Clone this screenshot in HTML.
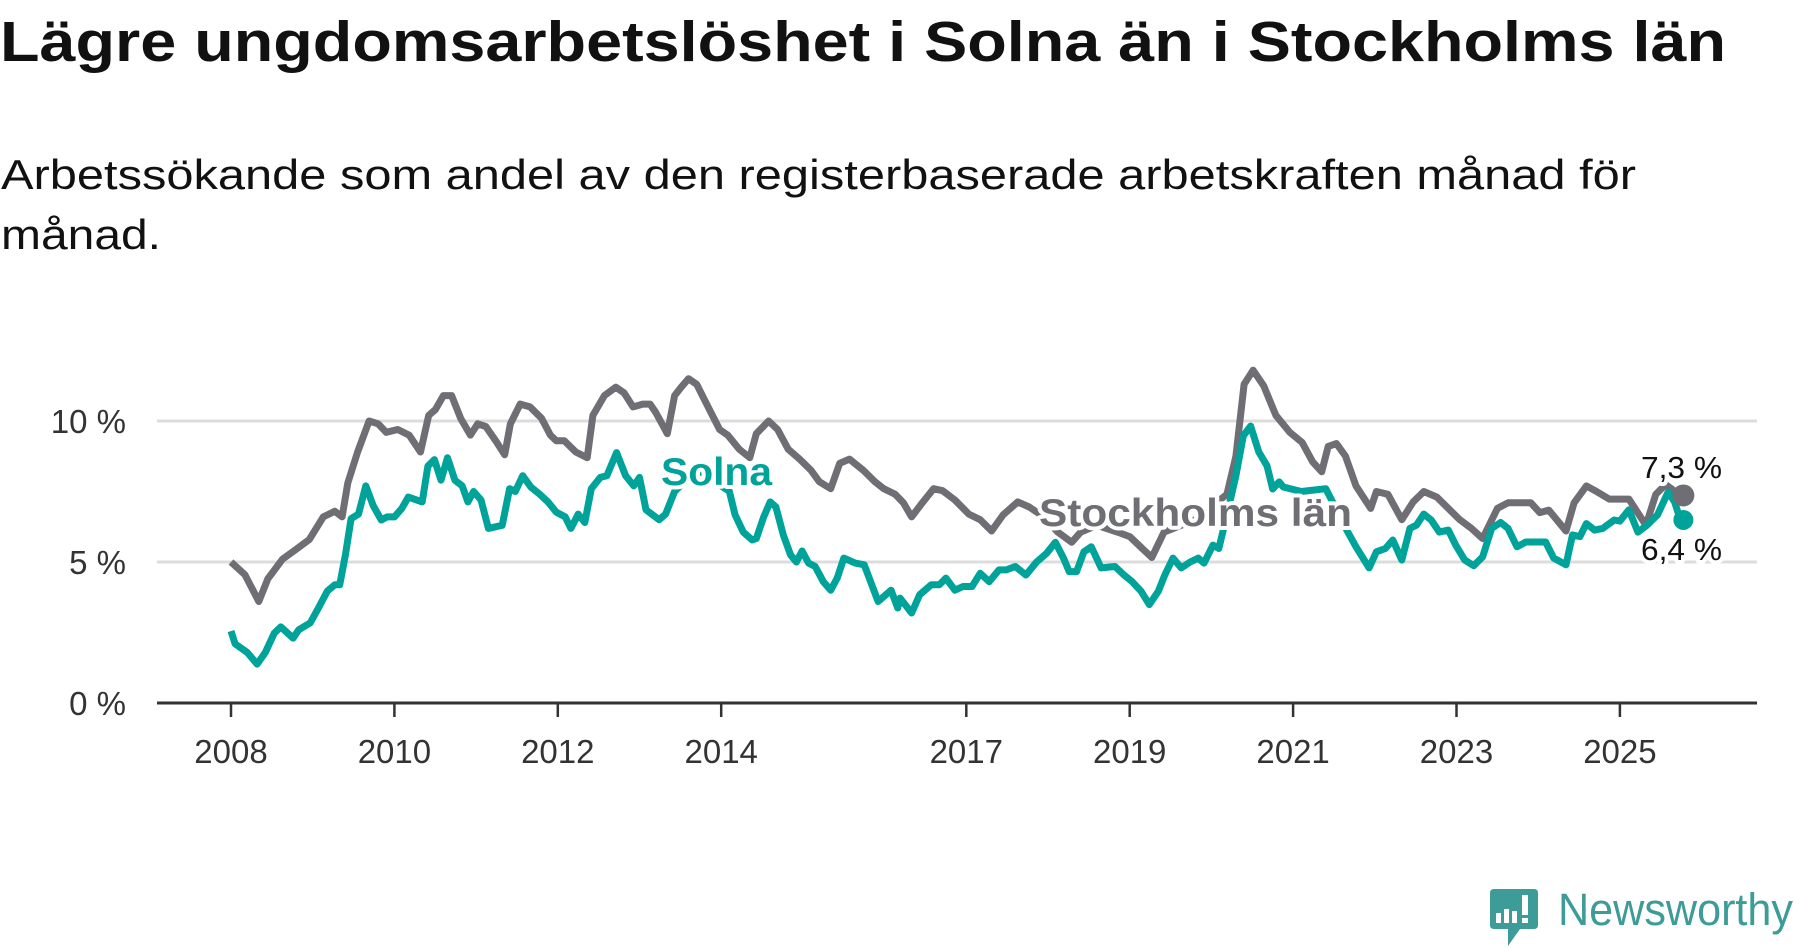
<!DOCTYPE html>
<html><head><meta charset="utf-8"><style>
html,body{margin:0;padding:0;background:#fff;}
svg{display:block;font-family:"Liberation Sans",sans-serif;}
</style></head><body>
<svg id="chart" width="1800" height="948" viewBox="0 0 1800 948">
<text x="0" y="61" font-size="57" font-weight="bold" fill="#111" textLength="1726" lengthAdjust="spacingAndGlyphs">Lägre ungdomsarbetslöshet i Solna än i Stockholms län</text>
<text x="1" y="189" font-size="42" fill="#111" textLength="1635" lengthAdjust="spacingAndGlyphs">Arbetssökande som andel av den registerbaserade arbetskraften månad för</text>
<text x="1" y="249" font-size="42" fill="#111" textLength="160" lengthAdjust="spacingAndGlyphs">månad.</text>
<g id="grid"></g>
<g id="yaxis"></g>
<g id="xaxis"></g>
<g id="lines"></g>
<g id="labels"></g>
<g>
  <path d="M1494 889 H1534 Q1538 889 1538 893 V925 Q1538 929 1534 929 H1520 L1508 946 L1508 929 H1494 Q1490 929 1490 925 V893 Q1490 889 1494 889 Z" fill="#3d9c97"/>
  <rect x="1496" y="913" width="5" height="10" fill="#fff"/>
  <rect x="1504" y="909" width="5" height="14" fill="#fff"/>
  <rect x="1512" y="911" width="5" height="12" fill="#fff"/>
  <rect x="1522" y="895" width="6" height="20" fill="#fff"/>
  <rect x="1522" y="918" width="6" height="5" fill="#fff"/>
  <text x="1558" y="925" font-size="45" fill="#3d9c97" textLength="235" lengthAdjust="spacingAndGlyphs">Newsworthy</text>
</g>
</svg>
<script>
const yTicks = [0, 5, 10];
const yTickLabels = ["0 %", "5 %", "10 %"];
const xTicks = [2008, 2010, 2012, 2014, 2017, 2019, 2021, 2023, 2025];
const stockholmYears = [2008.0,2008.17,2008.34,2008.45,2008.63,2008.82,2008.96,2009.13,2009.27,2009.36,2009.43,2009.55,2009.69,2009.80,2009.90,2010.04,2010.18,2010.32,2010.42,2010.50,2010.60,2010.70,2010.81,2010.93,2011.02,2011.12,2011.24,2011.35,2011.42,2011.54,2011.66,2011.80,2011.91,2011.98,2012.08,2012.22,2012.36,2012.43,2012.57,2012.71,2012.81,2012.92,2013.04,2013.13,2013.20,2013.34,2013.43,2013.51,2013.60,2013.70,2013.84,2013.98,2014.08,2014.22,2014.35,2014.43,2014.58,2014.69,2014.82,2014.96,2015.10,2015.20,2015.34,2015.45,2015.57,2015.74,2015.88,2015.99,2016.13,2016.23,2016.33,2016.47,2016.60,2016.71,2016.86,2017.03,2017.17,2017.31,2017.45,2017.63,2017.77,2017.95,2018.12,2018.29,2018.40,2018.60,2018.86,2019.0,2019.27,2019.42,2019.80,2020.19,2020.30,2020.40,2020.51,2020.64,2020.79,2020.96,2021.11,2021.24,2021.35,2021.43,2021.53,2021.64,2021.77,2021.95,2022.02,2022.16,2022.33,2022.47,2022.60,2022.76,2022.90,2023.04,2023.18,2023.32,2023.50,2023.63,2023.91,2024.02,2024.13,2024.34,2024.44,2024.59,2024.69,2024.87,2025.11,2025.32,2025.44,2025.56,2025.74];
const stockholmValues = [5.0,4.55,3.6,4.4,5.1,5.5,5.8,6.6,6.8,6.6,7.8,8.9,10.0,9.9,9.6,9.7,9.5,8.9,10.2,10.4,10.9,10.9,10.1,9.5,9.9,9.8,9.3,8.8,9.9,10.6,10.5,10.1,9.5,9.3,9.3,8.9,8.7,10.2,10.9,11.2,11.0,10.5,10.6,10.6,10.3,9.55,10.9,11.2,11.5,11.3,10.5,9.7,9.5,9.0,8.7,9.55,10.0,9.7,9.0,8.65,8.25,7.85,7.6,8.5,8.65,8.25,7.85,7.6,7.4,7.1,6.6,7.13,7.6,7.53,7.2,6.7,6.5,6.1,6.67,7.13,6.95,6.6,6.06,5.7,6.06,6.3,6.05,5.9,5.16,6.06,6.5,7.4,8.75,11.3,11.8,11.25,10.2,9.6,9.24,8.55,8.2,9.1,9.2,8.76,7.7,6.9,7.5,7.4,6.5,7.13,7.5,7.3,6.9,6.5,6.2,5.83,6.9,7.1,7.1,6.75,6.84,6.1,7.1,7.7,7.54,7.23,7.23,6.3,7.4,7.75,7.36];
const solnaYears = [2008.0,2008.05,2008.2,2008.32,2008.42,2008.53,2008.61,2008.76,2008.83,2008.97,2009.07,2009.18,2009.27,2009.33,2009.40,2009.47,2009.56,2009.65,2009.74,2009.84,2009.91,2010.0,2010.09,2010.17,2010.34,2010.41,2010.49,2010.57,2010.65,2010.74,2010.83,2010.90,2010.97,2011.06,2011.15,2011.32,2011.41,2011.48,2011.57,2011.67,2011.78,2011.88,2011.98,2012.09,2012.16,2012.25,2012.33,2012.41,2012.52,2012.60,2012.72,2012.83,2012.93,2013.0,2013.08,2013.24,2013.32,2013.43,2013.70,2014.10,2014.17,2014.27,2014.38,2014.43,2014.52,2014.60,2014.67,2014.76,2014.85,2014.92,2014.99,2015.07,2015.15,2015.25,2015.34,2015.42,2015.50,2015.64,2015.75,2015.92,2016.08,2016.16,2016.19,2016.33,2016.43,2016.57,2016.67,2016.75,2016.86,2016.96,2017.07,2017.17,2017.28,2017.40,2017.49,2017.60,2017.73,2017.86,2017.98,2018.09,2018.19,2018.26,2018.35,2018.44,2018.53,2018.65,2018.82,2018.93,2019.03,2019.14,2019.24,2019.35,2019.43,2019.53,2019.63,2019.74,2019.84,2019.91,2020.02,2020.09,2020.19,2020.30,2020.39,2020.48,2020.58,2020.68,2020.75,2020.83,2020.88,2021.1,2021.4,2021.67,2021.77,2021.93,2022.02,2022.13,2022.22,2022.33,2022.43,2022.51,2022.60,2022.69,2022.79,2022.90,2022.99,2023.10,2023.21,2023.32,2023.43,2023.54,2023.63,2023.74,2023.85,2024.09,2024.19,2024.34,2024.42,2024.51,2024.59,2024.69,2024.79,2024.93,2025.0,2025.11,2025.22,2025.33,2025.46,2025.59,2025.67,2025.74];
const solnaValues = [2.55,2.1,1.79,1.38,1.79,2.48,2.7,2.3,2.6,2.84,3.37,3.97,4.19,4.19,5.25,6.54,6.7,7.7,7.0,6.49,6.6,6.6,6.9,7.3,7.13,8.4,8.63,7.9,8.7,7.9,7.7,7.13,7.5,7.2,6.19,6.3,7.6,7.5,8.06,7.66,7.4,7.13,6.77,6.6,6.19,6.7,6.4,7.6,8.0,8.06,8.88,8.06,7.7,8.0,6.85,6.5,6.7,7.5,8.3,7.5,6.67,6.06,5.78,5.83,6.6,7.13,6.95,5.96,5.25,5.0,5.39,4.96,4.84,4.3,4.0,4.43,5.14,4.96,4.9,3.6,4.0,3.37,3.72,3.19,3.84,4.19,4.19,4.43,4.0,4.13,4.13,4.6,4.3,4.72,4.72,4.84,4.54,5.0,5.3,5.7,5.14,4.66,4.66,5.36,5.54,4.79,4.84,4.54,4.3,3.96,3.49,3.96,4.54,5.14,4.79,5.0,5.14,4.96,5.6,5.48,6.67,8.06,9.47,9.82,8.9,8.41,7.59,7.84,7.66,7.5,7.6,6.06,5.54,4.79,5.36,5.48,5.78,5.07,6.19,6.31,6.7,6.49,6.06,6.13,5.6,5.07,4.87,5.18,6.19,6.4,6.19,5.54,5.71,5.71,5.14,4.9,5.96,5.9,6.36,6.13,6.19,6.49,6.45,6.85,6.06,6.3,6.67,7.48,7.13,6.49];

const NS = "http://www.w3.org/2000/svg";
const X0 = 231, PXY = 81.7, Y0 = 703, PXV = 28.2;
function xScale(y){ return X0 + (y - 2008) * PXY; }
function yScale(v){ return Y0 - v * PXV; }
function mk(tag, attrs, parent){ const e = document.createElementNS(NS, tag); for (const k in attrs) e.setAttribute(k, attrs[k]); parent.appendChild(e); return e; }

const grid = document.getElementById('grid'), yaxis = document.getElementById('yaxis'), xaxis = document.getElementById('xaxis');
yTicks.forEach((t, i) => {
  if (t !== 0) {
    const g = mk('line', {x1:157, x2:1757, y1:yScale(t), y2:yScale(t), stroke:'#dcdcdc', 'stroke-width':3}, grid);
    
    
  }
  const l = mk('text', {x:126, y:yScale(t)+12, 'font-size':33, fill:'#333', 'text-anchor':'end'}, yaxis);
  
  
  l.textContent = yTickLabels[i];
});
const ax = mk('line', {x1:157, x2:1757, y1:Y0, y2:Y0, stroke:'#333', 'stroke-width':3}, xaxis);


xTicks.forEach(t => {
  const tk = mk('line', {x1:xScale(t), x2:xScale(t), y1:Y0, y2:Y0+14, stroke:'#333', 'stroke-width':2.5}, xaxis);
  
  
  const l = mk('text', {x:xScale(t), y:763, 'font-size':33, fill:'#333', 'text-anchor':'middle'}, xaxis);
  
  
  l.textContent = String(t);
});

const lines = document.getElementById('lines');
function path(ys, vs){ return ys.map((y,i)=>(i?'L':'M')+xScale(y).toFixed(1)+' '+yScale(vs[i]).toFixed(1)).join(' '); }
const sp = mk('path', {d:path(stockholmYears, stockholmValues), fill:'none', stroke:'#6e6e74', 'stroke-width':7, 'stroke-linejoin':'round'}, lines);


const so = mk('path', {d:path(solnaYears, solnaValues), fill:'none', stroke:'#00a39a', 'stroke-width':7, 'stroke-linejoin':'round'}, lines);


const sLast = stockholmValues.length-1, oLast = solnaValues.length-1;
const d1 = mk('circle', {cx:xScale(stockholmYears[sLast])+3, cy:yScale(stockholmValues[sLast]), r:11, fill:'#6e6e74'}, lines);


const d2 = mk('circle', {cx:xScale(solnaYears[oLast])+3, cy:yScale(solnaValues[oLast]), r:10, fill:'#00a39a'}, lines);



const labels = document.getElementById('labels');
function lab(name, txt, x, y, size, weight, fill, len){
  const t = mk('text', {x:x, y:y, 'font-size':size, 'font-weight':weight, fill:fill, stroke:'#fff', 'stroke-width':8, 'paint-order':'stroke', 'stroke-linejoin':'round', textLength:len, lengthAdjust:'spacingAndGlyphs'}, labels);
  
  
  t.textContent = txt;
}
lab('solna-label', 'Solna', 661, 485, 39, 'bold', '#00a39a', 111);
lab('stockholms-lan-label', 'Stockholms län', 1039, 526, 39, 'bold', '#6e6e74', 313);
lab('stockholms-lan-end-value', '7,3 %', 1641, 478, 31, 'normal', '#111', 81);
lab('solna-end-value', '6,4 %', 1641, 560, 31, 'normal', '#111', 81);
</script>
</body></html>
